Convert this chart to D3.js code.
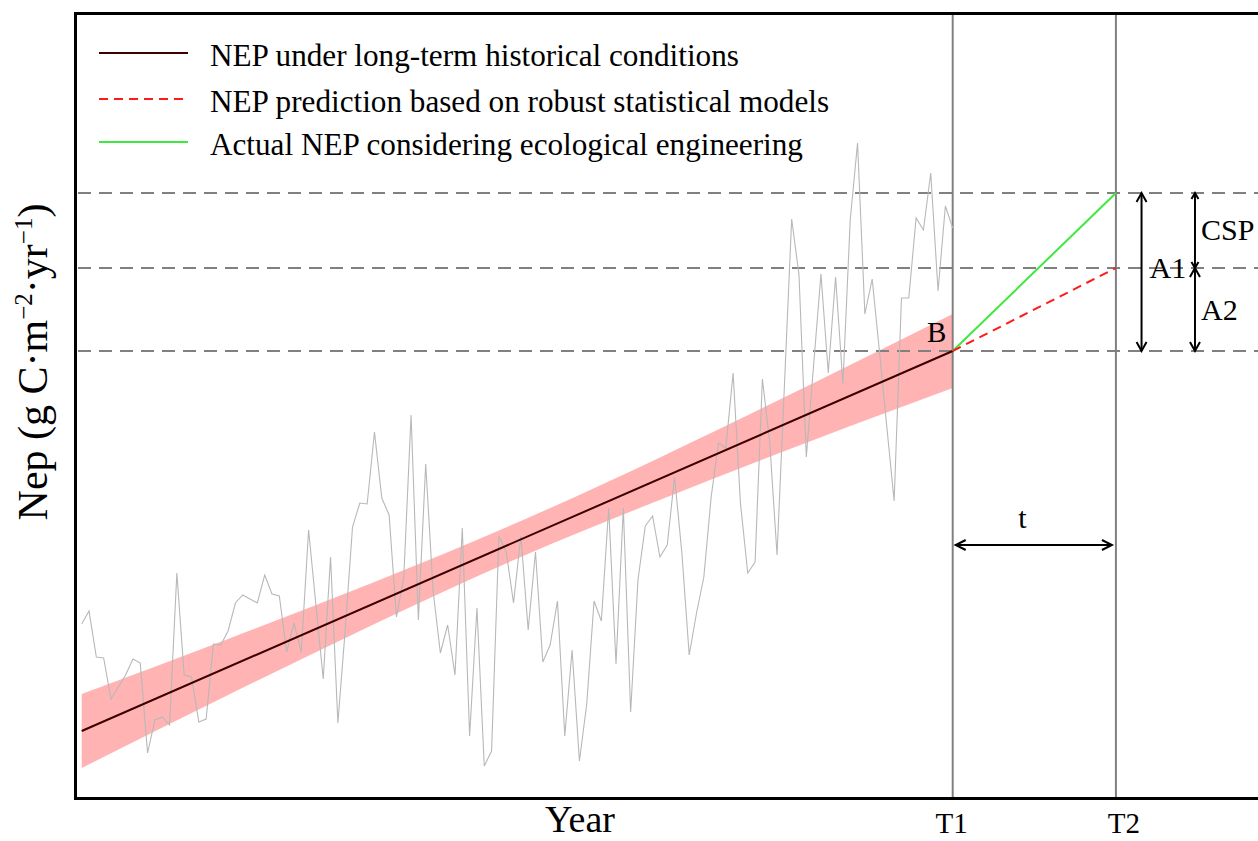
<!DOCTYPE html>
<html>
<head>
<meta charset="utf-8">
<script src="https://cdn.jsdelivr.net/npm/d3@7"></script>
<style>
  body { margin: 0; background: #fff; }
  text { font-family: "Liberation Serif", "Times New Roman", serif; fill: #000; }
</style>
</head>
<body>
<script>
// yearly NEP under historical conditions (grey line), one value per year
var years = d3.range(120);
var nepObserved = [
  174, 187, 141, 140, 99, 111, 123, 139, 135, 45,
  78, 81, 73, 225, 123, 121, 76, 79, 154, 153,
  167, 195, 203, 199, 195, 223, 204, 202, 146, 175,
  146, 268, 193, 119, 241, 75, 168, 271, 295, 294,
  366, 300, 283, 181, 220, 383, 178, 334, 208, 145,
  173, 123, 270, 62, 190, 32, 47, 262, 246, 195,
  262, 168, 246, 136, 153, 197, 62, 148, 37, 94,
  197, 177, 290, 134, 290, 86, 218, 272, 282, 241,
  253, 321, 245, 143, 185, 221, 301, 355, 350, 425,
  295, 225, 236, 419, 356, 243, 411, 579, 523, 341,
  433, 524, 425, 521, 414, 578, 655, 484, 519, 446,
  371, 297, 500, 500, 580, 568, 625, 507, 592, 570
];

// fitted trend and its confidence band
var trendYears = [0, 119];
var trendValues = [67, 447];
var bandYears = [0, 20, 40, 60, 80, 100, 119];
var bandUpper = [104, 159, 216, 277, 344, 415, 484];
var bandLower = [30, 103, 174, 241, 301, 358, 410];

// T1 -> T2 projections
var projYears = [119, 141.3];
var predValues = [447, 530];
var actualValues = [447, 605];
var levels = [447, 530, 605];

var tickYears = [119, 141.3];
var tickLabels = ["T1", "T2"];

var legendLabels = [
  "NEP under long-term historical conditions",
  "NEP prediction based on robust statistical models",
  "Actual NEP considering ecological engineering"
];
var legendColors = ["#3c0000", "#ff1a1a", "#3ee83e"];
var legendDash = [null, "9,6", null];

var width = 1258, height = 841;

var svg = d3.select("body").append("svg")
    .attr("width", width)
    .attr("height", height);

var x = d3.scaleLinear().domain([0, 119]).range([81.7, 952.7]);
var y = d3.scaleLinear().domain([0, 785]).range([798, 13]);

// confidence band
var area = d3.area()
    .x(function(d) { return x(d[0]); })
    .y0(function(d) { return y(d[1]); })
    .y1(function(d) { return y(d[2]); })
    .curve(d3.curveNatural);

svg.append("path")
    .datum(bandYears.map(function(yr, i) { return [yr, bandLower[i], bandUpper[i]]; }))
    .attr("fill", "#ffb3b3")
    .attr("d", area);

// horizontal reference levels
svg.selectAll(".level")
    .data(levels)
    .enter().append("line")
    .attr("class", "level")
    .attr("x1", 78).attr("x2", width)
    .attr("y1", function(d) { return y(d); })
    .attr("y2", function(d) { return y(d); })
    .attr("stroke", "#808080")
    .attr("stroke-width", 2)
    .attr("stroke-dasharray", "13,8");

// T1 / T2 verticals
svg.selectAll(".tline")
    .data(tickYears)
    .enter().append("line")
    .attr("class", "tline")
    .attr("x1", function(d) { return x(d); })
    .attr("x2", function(d) { return x(d); })
    .attr("y1", y(785)).attr("y2", y(0))
    .attr("stroke", "#808080")
    .attr("stroke-width", 2);

var line = d3.line()
    .x(function(d) { return x(d[0]); })
    .y(function(d) { return y(d[1]); });

// grey yearly series
svg.append("path")
    .datum(years.map(function(yr, i) { return [yr, nepObserved[i]]; }))
    .attr("fill", "none")
    .attr("stroke", "#b8b8b8")
    .attr("stroke-width", 1.1)
    .attr("d", line);

// trend line
svg.append("path")
    .datum(trendYears.map(function(yr, i) { return [yr, trendValues[i]]; }))
    .attr("fill", "none")
    .attr("stroke", legendColors[0])
    .attr("stroke-width", 2)
    .attr("d", line);

// projections
svg.append("path")
    .datum(projYears.map(function(yr, i) { return [yr, actualValues[i]]; }))
    .attr("fill", "none")
    .attr("stroke", legendColors[2])
    .attr("stroke-width", 2)
    .attr("d", line);

svg.append("path")
    .datum(projYears.map(function(yr, i) { return [yr, predValues[i]]; }))
    .attr("fill", "none")
    .attr("stroke", legendColors[1])
    .attr("stroke-width", 2)
    .attr("stroke-dasharray", "9,6")
    .attr("d", line);

// double headed arrow
function arrow(x1, y1, x2, y2, hw, hl) {
  var g = svg.append("g").attr("stroke", "#000").attr("stroke-width", 2).attr("fill", "none");
  g.append("line").attr("x1", x1).attr("y1", y1).attr("x2", x2).attr("y2", y2);
  var a = Math.atan2(y2 - y1, x2 - x1);
  [[x2, y2, a], [x1, y1, a + Math.PI]].forEach(function(p) {
    var c = Math.cos(p[2]), s = Math.sin(p[2]);
    var bx = p[0] - hl * c, by = p[1] - hl * s;
    g.append("path").attr("d",
      "M" + (bx - hw * s) + "," + (by + hw * c) +
      "L" + p[0] + "," + p[1] +
      "L" + (bx + hw * s) + "," + (by - hw * c));
  });
}

var xA1 = x(144.8), xA2 = x(152.1);
arrow(xA1, y(levels[2]), xA1, y(levels[0]), 5, 9);
arrow(xA2, y(levels[2]), xA2, y(levels[1]), 3.5, 6);
arrow(xA2, y(levels[1]), xA2, y(levels[0]), 5, 9);
arrow(x(tickYears[0]) + 3, y(253), x(tickYears[1]) - 4, y(253), 5, 10);

function label(txt, xx, yy, size, anchor) {
  return svg.append("text")
      .attr("x", xx).attr("y", yy)
      .attr("font-size", size)
      .attr("text-anchor", anchor || "start")
      .text(txt);
}

label("B", x(119) - 16, y(levels[0]) - 9, 29, "middle");
label("A1", xA1 + 8, 278, 30);
label("CSP", xA2 + 6, 240, 30);
label("A2", xA2 + 6, 320, 30);
label("t", (x(tickYears[0]) + x(tickYears[1])) / 2 - 12, 528, 30, "middle");

// legend
var legend = svg.append("g");
[53, 99, 142].forEach(function(ly, i) {
  legend.append("line")
      .attr("x1", 99).attr("x2", 188)
      .attr("y1", ly).attr("y2", ly)
      .attr("stroke", legendColors[i])
      .attr("stroke-width", 2)
      .attr("stroke-dasharray", legendDash[i]);
  legend.append("text")
      .attr("x", 210).attr("y", ly + 13)
      .attr("font-size", 31.2)
      .text(legendLabels[i]);
});

// T1 / T2 tick labels
svg.selectAll(".tlab")
    .data(tickYears)
    .enter().append("text")
    .attr("class", "tlab")
    .attr("x", function(d, i) { return x(d) + (i ? 8 : -1); })
    .attr("y", 833)
    .attr("font-size", 29)
    .attr("text-anchor", "middle")
    .text(function(d, i) { return tickLabels[i]; });

// axis titles
label("Year", 580, 832, 38, "middle");

var ylab = svg.append("text")
    .attr("transform", "translate(47,362) rotate(-90)")
    .attr("font-size", 42)
    .attr("text-anchor", "middle");
ylab.append("tspan").text("Nep (g C\u00b7m");
ylab.append("tspan").attr("dy", -15).attr("font-size", 25).text("\u22122");
ylab.append("tspan").attr("dy", 15).text("\u00b7yr");
ylab.append("tspan").attr("dy", -15).attr("font-size", 25).text("\u22121");
ylab.append("tspan").attr("dy", 15).text(")");

// frame
svg.append("rect")
    .attr("x", 75.5).attr("y", 13.5)
    .attr("width", 1200).attr("height", 785)
    .attr("fill", "none")
    .attr("stroke", "#000")
    .attr("stroke-width", 3);
</script>
</body>
</html>
